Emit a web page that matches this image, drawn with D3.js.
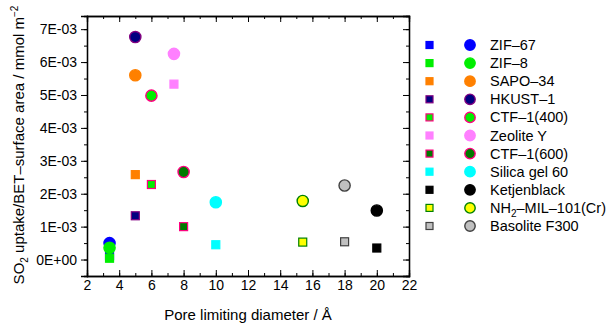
<!DOCTYPE html>
<html>
<head>
<meta charset="utf-8">
<script src="https://cdn.jsdelivr.net/npm/d3@7"></script>
<style>
  body { margin: 0; background: #fff; }
  text { font-family: "Liberation Sans", Arial, sans-serif; fill: #000; }
</style>
</head>
<body>
<div id="chart"></div>
<script>
// Materials, in legend order
var materials = ["ZIF\u201367", "ZIF\u20138", "SAPO\u201334", "HKUST\u20131", "CTF\u20131(400)", "Zeolite Y",
                 "CTF\u20131(600)", "Silica gel 60", "Ketjenblack", "NH2\u2013MIL\u2013101(Cr)", "Basolite F300"];
// Pore limiting diameter / Å
var poreDiameter = [3.4, 3.4, 5, 5, 6, 7.4, 8, 10, 20, 15.4, 18];
// circle series (mmol m^-2)
var circleValues = [0.50e-3, 0.36e-3, 5.60e-3, 6.76e-3, 4.98e-3, 6.25e-3, 2.66e-3, 1.74e-3, 1.49e-3, 1.78e-3, 2.25e-3];
// square series (mmol m^-2)
var squareValues = [0.12e-3, 0.04e-3, 2.58e-3, 1.33e-3, 2.28e-3, 5.33e-3, 1.00e-3, 0.45e-3, 0.35e-3, 0.53e-3, 0.54e-3];

var fills   = ["#0000ff", "#00ee00", "#ff8000", "#000080", "#00ee00", "#ff80ff", "#007a00", "#00ffff", "#000000", "#ffff00", "#c0c0c0"];
var strokes = ["#0000ff", "#00ee00", "#ff8000", "#800080", "#ff0080", "#ff80ff", "#ff0080", "#00ffff", "#000000", "#008000", "#404040"];

var xTicks = [2, 4, 6, 8, 10, 12, 14, 16, 18, 20, 22];
var yTicks = [0, 1e-3, 2e-3, 3e-3, 4e-3, 5e-3, 6e-3, 7e-3];

var width = 608, height = 323;
var margin = {left: 87, top: 16, right: 199, bottom: 47};
var plotW = width - margin.left - margin.right;
var plotH = height - margin.top - margin.bottom;

var svg = d3.select("#chart").append("svg")
	.attr("width", width)
	.attr("height", height);

var g = svg.append("g")
	.attr("transform", "translate(" + margin.left + "," + margin.top + ")");

var xScale = d3.scaleLinear().domain([2, 22]).range([0, plotW]);
var yScale = d3.scaleLinear().domain([-0.5e-3, 7.4e-3]).range([plotH, 0]);

function sci(v) {
	if (v === 0) return "0E+00";
	var e = Math.floor(Math.log10(Math.abs(v)) + 1e-9);
	var m = Math.round(v / Math.pow(10, e));
	var es = Math.abs(e) < 10 ? "0" + Math.abs(e) : "" + Math.abs(e);
	return m + "E" + (e < 0 ? "-" : "+") + es;
}

// Axes: left ticks outward, others inward
var xMinor = d3.range(2, 23, 1);
var yMinor = d3.range(-0.5e-3, 7.41e-3, 0.5e-3);

g.append("g")
	.attr("transform", "translate(0," + plotH + ")")
	.call(d3.axisBottom(xScale).tickValues(xMinor).tickSize(-3).tickFormat(""));
g.append("g")
	.attr("transform", "translate(0," + plotH + ")")
	.call(d3.axisBottom(xScale).tickValues(xTicks).tickSize(-6).tickPadding(4).tickFormat(d3.format("d")));
g.append("g")
	.call(d3.axisTop(xScale).tickValues(xMinor).tickSize(-3).tickFormat(""));
g.append("g")
	.call(d3.axisTop(xScale).tickValues(xTicks).tickSize(-6).tickFormat(""));

g.append("g")
	.call(d3.axisLeft(yScale).tickValues(yMinor).tickSize(3).tickFormat(""));
g.append("g")
	.call(d3.axisLeft(yScale).tickValues(yTicks).tickSize(6).tickPadding(4).tickFormat(sci));
g.append("g")
	.attr("transform", "translate(" + plotW + ",0)")
	.call(d3.axisRight(yScale).tickValues(yMinor).tickSize(-3).tickFormat(""));
g.append("g")
	.attr("transform", "translate(" + plotW + ",0)")
	.call(d3.axisRight(yScale).tickValues(yTicks).tickSize(-6).tickFormat(""));

g.selectAll(".domain").attr("stroke", "#000").attr("stroke-width", 1.3);
g.selectAll(".tick line").attr("stroke", "#000").attr("stroke-width", 1);
g.selectAll(".tick text").attr("font-size", "14px").attr("font-family", "Liberation Sans, Arial, sans-serif");

// Axis labels
svg.append("text")
	.attr("x", margin.left + plotW / 2)
	.attr("y", 320)
	.attr("text-anchor", "middle")
	.attr("font-size", "15px")
	.text("Pore limiting diameter / \u00c5");

var yl = svg.append("text")
	.attr("transform", "translate(24,145) rotate(-90)")
	.attr("text-anchor", "middle")
	.attr("font-size", "15px");
yl.append("tspan").text("SO");
yl.append("tspan").attr("font-size", "10px").attr("dy", 4).text("2");
yl.append("tspan").attr("dy", -4).text(" uptake/BET\u2013surface area / mmol m");
yl.append("tspan").attr("font-size", "10px").attr("dy", -6).text("\u22122");

// Data
var idx = d3.range(materials.length);
var sq = 8;

g.append("g").selectAll("rect")
	.data(idx)
	.enter()
	.append("rect")
	.attr("x", function(i){ return xScale(poreDiameter[i]) - sq / 2; })
	.attr("y", function(i){ return yScale(squareValues[i]) - sq / 2; })
	.attr("width", sq)
	.attr("height", sq)
	.attr("fill", function(i){ return fills[i]; })
	.attr("stroke", function(i){ return strokes[i]; })
	.attr("stroke-width", 1.2);

g.append("g").selectAll("circle")
	.data(idx)
	.enter()
	.append("circle")
	.attr("cx", function(i){ return xScale(poreDiameter[i]); })
	.attr("cy", function(i){ return yScale(circleValues[i]); })
	.attr("r", 5.6)
	.attr("fill", function(i){ return fills[i]; })
	.attr("stroke", function(i){ return strokes[i]; })
	.attr("stroke-width", 1.4);

// Legend
var legend = svg.append("g").attr("transform", "translate(0,45)");
var rows = legend.selectAll("g")
	.data(idx)
	.enter()
	.append("g")
	.attr("transform", function(i){ return "translate(0," + (i * 18.1) + ")"; });

rows.append("rect")
	.attr("x", 426)
	.attr("y", -3.5)
	.attr("width", 7)
	.attr("height", 7)
	.attr("fill", function(i){ return fills[i]; })
	.attr("stroke", function(i){ return strokes[i]; })
	.attr("stroke-width", 1.2);

rows.append("circle")
	.attr("cx", 470)
	.attr("cy", 0)
	.attr("r", 5.2)
	.attr("fill", function(i){ return fills[i]; })
	.attr("stroke", function(i){ return strokes[i]; })
	.attr("stroke-width", 1.4);

rows.append("text")
	.attr("x", 490)
	.attr("y", 5)
	.attr("font-size", "14.5px")
	.each(function(i){
		var t = d3.select(this);
		var name = materials[i];
		if (name.indexOf("NH2") === 0) {
			t.append("tspan").text("NH");
			t.append("tspan").attr("font-size", "10px").attr("dy", 4).text("2");
			t.append("tspan").attr("dy", -4).text(name.slice(3));
		} else {
			t.text(name);
		}
	});
</script>
</body>
</html>
